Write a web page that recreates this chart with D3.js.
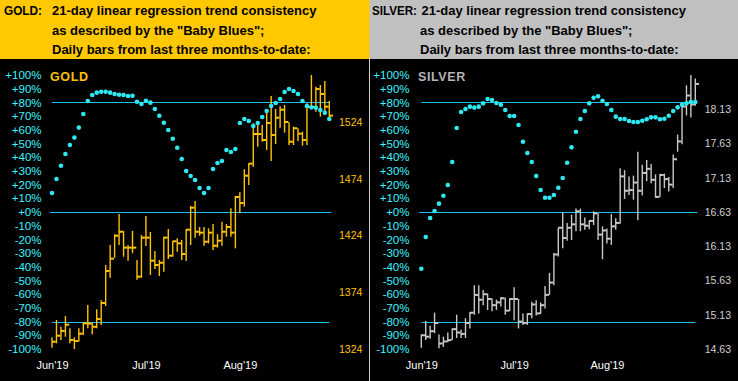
<!DOCTYPE html>
<html>
<head>
<meta charset="utf-8">
<script src="https://cdn.jsdelivr.net/npm/d3@7"></script>
<style>
  body { margin: 0; background: #000; }
  svg { display: block; }
</style>
</head>
<body>
<svg width="738" height="381"></svg>
<script>
// ---- data ----
var goldHigh = [1334.3,1349.6,1343.6,1353.1,1342.2,1334.3,1342.2,1347.5,1362.8,1347.5,
  1359.0,1366.9,1398.0,1415.6,1425.1,1442.9,1428.0,1415.6,1428.0,1402.4,
  1424.4,1441.2,1427.1,1410.3,1402.4,1422.9,1429.7,1419.2,1421.5,1420.0,
  1429.7,1450.0,1454.4,1431.5,1431.5,1430.3,1434.1,1425.1,1436.2,1434.1,
  1448.0,1458.8,1462.1,1482.3,1487.6,1522.9,1521.4,1521.4,1533.7,1546.9,
  1535.5,1537.8,1539.0,1523.7,1519.9,1518.5,1515.5,1540.5,1565.4,1555.1,
  1556.6,1560.1,1542.5];
var goldLow = [1325.1,1329.0,1331.9,1334.8,1329.0,1324.0,1330.4,1336.3,1342.2,1337.0,
  1342.2,1345.1,1361.9,1386.8,1404.4,1415.6,1405.3,1401.8,1408.3,1385.1,
  1386.8,1414.7,1389.2,1394.5,1388.3,1392.1,1403.3,1405.3,1409.7,1402.4,
  1401.5,1415.6,1422.1,1423.8,1415.0,1417.1,1411.2,1413.3,1415.0,1422.9,
  1422.9,1412.7,1443.6,1449.4,1468.5,1484.6,1502.2,1506.6,1499.3,1489.6,
  1504.6,1519.0,1514.6,1503.7,1503.7,1507.3,1503.1,1503.7,1536.1,1533.1,
  1528.7,1530.2,1525.8];
var goldClose = [1330.4,1335.7,1339.9,1345.4,1331.9,1331.0,1337.5,1346.6,1346.3,1343.6,
  1350.4,1364.5,1392.7,1403.6,1423.8,1427.3,1413.3,1413.3,1413.3,1387.7,
  1422.1,1422.1,1401.8,1398.0,1400.0,1422.1,1406.2,1418.9,1417.1,1407.7,
  1429.1,1448.5,1427.3,1426.5,1418.5,1426.5,1415.0,1419.4,1427.3,1431.5,
  1426.5,1457.9,1452.6,1476.7,1487.3,1513.4,1513.4,1508.1,1523.1,1512.5,
  1527.8,1534.8,1524.0,1506.6,1518.5,1513.7,1508.1,1537.2,1537.2,1553.1,
  1548.7,1537.5,1529.6];
var goldBlues = [13.9,24.1,33.8,42.3,48.9,54.3,61.6,71.5,81.0,85.4,
  87.1,87.8,87.8,87.1,86.1,85.6,85.4,84.7,84.9,80.5,
  78.8,81.2,79.8,75.2,70.3,65.2,59.9,53.5,46.9,38.7,
  29.9,26.3,23.4,17.5,13.9,17.5,31.4,35.8,37.2,45.3,
  43.8,46.0,65.0,67.9,66.4,62.8,65.0,69.3,73.7,77.4,
  79.6,82.5,87.6,89.8,88.3,86.1,81.0,77.4,76.4,76.1,
  74.5,72.5,67.9];

var silverHigh = [14.84,15.04,14.97,15.16,14.84,14.81,14.87,14.93,15.13,14.91,
  15.08,15.17,15.56,15.56,15.49,15.44,15.37,15.35,15.39,15.38,
  15.37,15.53,15.36,15.15,15.15,15.32,15.34,15.31,15.55,15.74,
  16.03,16.40,16.62,16.47,16.59,16.68,16.68,16.55,16.51,16.64,
  16.61,16.42,16.39,16.60,16.54,17.27,17.24,17.15,17.16,17.51,
  17.32,17.39,17.33,17.18,17.19,17.19,17.14,17.47,17.76,18.19,
  18.48,18.63,18.58];
var silverLow = [14.65,14.76,14.78,14.86,14.64,14.66,14.73,14.76,14.79,14.79,
  14.79,14.93,15.13,15.15,15.27,15.20,15.18,15.20,15.25,15.13,
  15.18,15.05,14.93,14.98,14.98,15.08,15.12,15.14,15.22,15.42,
  15.56,15.98,16.10,16.21,16.22,16.35,16.35,16.37,16.38,16.44,
  16.22,15.94,16.17,16.15,16.37,16.46,16.82,16.88,16.81,16.51,
  16.87,17.08,17.05,16.84,16.85,16.98,16.93,16.98,17.51,17.62,
  18.04,18.01,18.18];
var silverClose = [14.83,14.81,14.89,15.01,14.71,14.74,14.76,14.92,14.87,14.85,
  15.01,15.16,15.42,15.35,15.43,15.36,15.27,15.31,15.37,15.19,
  15.36,15.36,15.03,15.01,15.14,15.28,15.15,15.27,15.42,15.60,
  16.01,16.40,16.25,16.40,16.45,16.64,16.45,16.43,16.50,16.61,
  16.30,16.36,16.24,16.42,16.47,17.15,16.94,16.95,17.06,16.94,
  17.20,17.26,17.10,16.85,17.17,17.11,17.03,17.40,17.66,18.17,
  18.33,18.20,18.50];
var silverBlues = [-41.4,-18.2,-4.4,0.7,6.1,11.9,19.7,36.5,61.3,73.0,
  75.2,76.9,76.2,76.9,79.3,82.5,81.8,79.6,78.3,74.5,
  70.1,70.1,63.5,51.3,43.1,36.5,26.3,16.1,10.4,10.4,
  12.4,17.7,24.8,36.0,47.2,58.6,67.9,73.7,79.3,83.4,
  84.4,81.2,78.8,74.5,69.6,67.9,67.9,66.4,65.7,65.7,
  66.6,67.7,69.1,69.1,67.7,68.1,70.3,73.7,76.4,78.3,
  79.3,80.3,80.3];

var pctTicks = [100,90,80,70,60,50,40,30,20,10,0,-10,-20,-30,-40,-50,-60,-70,-80,-90,-100];
var bandLines = [80, 0, -80];
var goldPriceTicks = [1324, 1374, 1424, 1474, 1524];
var silverPriceTicks = [14.63, 15.13, 15.63, 16.13, 16.63, 17.13, 17.63, 18.13];
var monthLabels = ["Jun'19", "Jul'19", "Aug'19"];
var monthIndex = [0, 21, 42];

var headerLines = ["21-day linear regression trend consistency",
  "as described by the \"Baby Blues\";",
  "Daily bars from last three months-to-date:"];

var svg = d3.select("svg");
var FONT = "Arial, 'Liberation Sans', sans-serif";
var BLUE_LINE = "#1cc3ef", DOT = "#2ee8f2", PCT_TEXT = "#3ff3ff";

function drawPanel(opt) {
  var g = svg.append("g").attr("transform", "translate(" + opt.left + ",0)");

  // header
  g.append("rect").attr("x", 0).attr("y", 0)
    .attr("width", opt.headW).attr("height", 59)
    .attr("fill", opt.headColor);
  g.append("text").attr("x", 4).attr("y", 15)
    .attr("font-family", FONT).attr("font-weight", "bold").attr("font-size", 13)
    .attr("textLength", opt.nameW).attr("lengthAdjust", "spacingAndGlyphs")
    .attr("fill", "#000").text(opt.name + ":");
  headerLines.forEach(function(t, i) {
    g.append("text")
      .attr("x", i == 0 ? opt.line1x : 52).attr("y", 15 + i * 19.6)
      .attr("font-family", FONT).attr("font-weight", "bold").attr("font-size", 13)
      .attr("fill", "#000").text(t);
  });

  var n = opt.high.length;
  var x = d3.scaleLinear().domain([0, n - 1]).range(opt.xRange);
  var pct = d3.scaleLinear().domain([-100, 100]).range([349, 75]);
  var price = d3.scaleLinear().domain(opt.priceDomain).range([349, 75]);

  // percent axis on the left
  var ay = g.append("g").attr("transform", "translate(43.5,0)")
    .call(d3.axisLeft(pct).tickValues(pctTicks).tickSize(0).tickPadding(2)
      .tickFormat(function(d) { return (d >= 0 ? "+" : "") + d + "%"; }));
  ay.select(".domain").remove();
  ay.selectAll("text").attr("fill", PCT_TEXT).attr("font-size", 11.5).attr("font-family", FONT);

  // price axis on the right
  var ap = g.append("g").attr("transform", "translate(" + opt.priceX + ",0)")
    .call(d3.axisRight(price).tickValues(opt.priceTicks).tickSize(0).tickPadding(0)
      .tickFormat(opt.priceFormat));
  ap.select(".domain").remove();
  ap.selectAll("text").attr("fill", opt.priceColor).attr("font-size", 10.5).attr("font-family", FONT);

  // month axis
  var am = g.append("g").attr("transform", "translate(0,361)")
    .call(d3.axisBottom(x).tickValues(monthIndex).tickSize(0).tickPadding(0)
      .tickFormat(function(d, i) { return monthLabels[i]; }));
  am.select(".domain").remove();
  am.selectAll("text").attr("fill", "#fff").attr("font-size", 11).attr("font-family", FONT);

  // name label
  g.append("text").attr("x", 50).attr("y", 80.5)
    .attr("font-family", FONT).attr("font-weight", "bold").attr("font-size", 12.5)
    .attr("letter-spacing", 0.6).attr("fill", opt.labelColor).text(opt.name);

  // +80 / 0 / -80 lines
  g.append("g").selectAll("line").data(bandLines).enter().append("line")
    .attr("x1", function(d) { return d == 0 ? x(0) - 2 : x(0); })
    .attr("x2", function(d) { return d == 0 ? x(n - 1) + 2 : x(n - 1); })
    .attr("y1", function(d) { return Math.round(pct(d)) + 0.5; })
    .attr("y2", function(d) { return Math.round(pct(d)) + 0.5; })
    .attr("stroke", BLUE_LINE).attr("stroke-width", 1);

  // daily bars: high-low with close tick on the right
  var idx = d3.range(n);
  var bars = g.append("g").attr("stroke", opt.barColor);
  bars.selectAll(".hl").data(idx).enter().append("line")
    .attr("x1", function(i) { return x(i); }).attr("x2", function(i) { return x(i); })
    .attr("y1", function(i) { return price(opt.high[i]); })
    .attr("y2", function(i) { return price(opt.low[i]); })
    .attr("stroke-width", 1.4);
  bars.selectAll(".cl").data(idx).enter().append("line")
    .attr("x1", function(i) { return x(i); }).attr("x2", function(i) { return x(i) + 3.8; })
    .attr("y1", function(i) { return price(opt.close[i]); })
    .attr("y2", function(i) { return price(opt.close[i]); })
    .attr("stroke-width", 2);

  // baby blues dots
  g.append("g").selectAll("circle").data(opt.blues).enter().append("circle")
    .attr("cx", function(d, i) { return x(i); })
    .attr("cy", function(d) { return pct(d); })
    .attr("r", 2.3)
    .attr("fill", DOT);
}

drawPanel({
  left: 0, headW: 369, headColor: "#ffc800", name: "GOLD", nameW: 38, line1x: 52,
  high: goldHigh, low: goldLow, close: goldClose, blues: goldBlues,
  xRange: [52, 329.3], priceDomain: [1324, 1565.4], priceTicks: goldPriceTicks,
  priceFormat: d3.format("d"), priceX: 339, priceColor: "#ffc400",
  labelColor: "#ffc000", barColor: "#ffc400"
});

drawPanel({
  left: 368, headW: 370, headColor: "#c0c0c0", name: "SILVER", nameW: 45, line1x: 53.5,
  high: silverHigh, low: silverLow, close: silverClose, blues: silverBlues,
  xRange: [53.3, 327.3], priceDomain: [14.63, 18.63], priceTicks: silverPriceTicks,
  priceFormat: d3.format(".2f"), priceX: 336.7, priceColor: "#d0d0d0",
  labelColor: "#b4b4b4", barColor: "#c8c8c8"
});

// strip between the two panels
svg.append("rect").attr("x", 368).attr("y", 0).attr("width", 1.5).attr("height", 59).attr("fill", "#ffc800");
svg.append("line").attr("x1", 369.5).attr("x2", 369.5).attr("y1", 59).attr("y2", 381)
  .attr("stroke", "#c8c8c8").attr("stroke-width", 1);
</script>
</body>
</html>
